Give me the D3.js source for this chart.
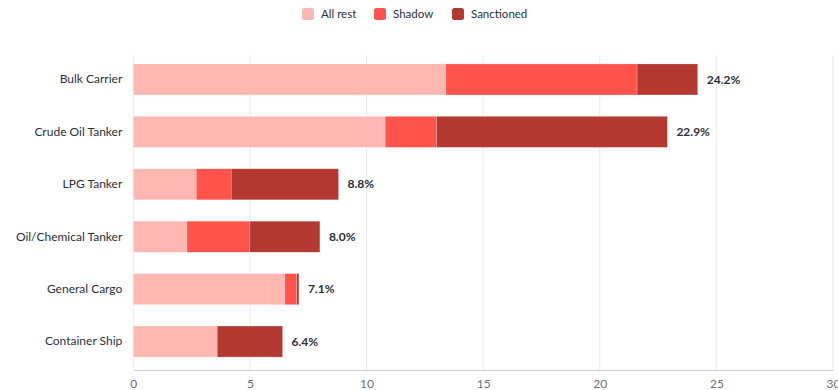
<!DOCTYPE html>
<html>
<head>
<meta charset="utf-8">
<script src="https://cdn.jsdelivr.net/npm/d3@7"></script>
<style>
  body { margin: 0; background: #fff; }
  svg { font-family: Lato, "Noto Sans", sans-serif; }
</style>
</head>
<body>
<div id="chart"></div>
<script>
// data
const categories = ["Bulk Carrier", "Crude Oil Tanker", "LPG Tanker", "Oil/Chemical Tanker", "General Cargo", "Container Ship"];
const allRest    = [13.4, 10.8, 2.7, 2.3, 6.5, 3.6];
const shadow     = [8.2, 2.2, 1.5, 2.7, 0.5, 0.0];
const sanctioned = [2.6, 9.9, 4.6, 3.0, 0.1, 2.8];
const totalLabels = ["24.2%", "22.9%", "8.8%", "8.0%", "7.1%", "6.4%"];
const seriesNames = ["All rest", "Shadow", "Sanctioned"];
const xTicks = [0, 5, 10, 15, 20, 25, 30];

const colors = d3.scaleOrdinal()
  .domain(seriesNames)
  .range(["#ffb8b1", "#ff534b", "#b33931"]);

const width = 838, height = 390;
const plotLeft = 133.3, plotRight = 833, plotTop = 55, plotBottom = 370;

const rows = categories.map((c, i) => ({
  cat: c,
  "All rest": allRest[i],
  "Shadow": shadow[i],
  "Sanctioned": sanctioned[i],
  label: totalLabels[i]
}));

const stack = d3.stack().keys(seriesNames);
const layers = stack(rows);

const x = d3.scaleLinear().domain([0, 30]).range([plotLeft, plotRight]);
const y = d3.scaleBand().domain(categories).range([plotTop, 366])
  .paddingInner(0.408).paddingOuter(0.17);

const svg = d3.select("#chart").append("svg")
  .attr("width", width).attr("height", height);

// gridlines
svg.append("g").selectAll("line")
  .data(xTicks)
  .enter().append("line")
    .attr("x1", d => x(d)).attr("x2", d => x(d))
    .attr("y1", plotTop).attr("y2", plotBottom)
    .attr("stroke", "#ececec").attr("stroke-width", 1);

// bars
svg.append("g").selectAll("g")
  .data(layers)
  .enter().append("g")
    .attr("fill", d => colors(d.key))
  .selectAll("rect")
  .data(d => d)
  .enter().append("rect")
    .attr("x", d => x(d[0]))
    .attr("y", d => y(d.data.cat))
    .attr("width", d => Math.max(0, x(d[1]) - x(d[0])))
    .attr("height", y.bandwidth())
    .attr("stroke", "#fff")
    .attr("stroke-opacity", 0.35)
    .attr("stroke-width", 0.6);

// total labels
svg.append("g").selectAll("text")
  .data(rows)
  .enter().append("text")
    .attr("x", d => x(d["All rest"] + d["Shadow"] + d["Sanctioned"]) + 9)
    .attr("y", d => y(d.cat) + y.bandwidth() / 2)
    .attr("dy", "0.35em")
    .attr("font-size", 12)
    .attr("font-weight", "bold")
    .attr("fill", "#2b313c")
    .text(d => d.label);

// y axis labels
const yAxis = svg.append("g")
  .attr("transform", `translate(${plotLeft},0)`)
  .call(d3.axisLeft(y).tickSize(0).tickPadding(11));
yAxis.select(".domain").remove();
yAxis.selectAll("text")
  .attr("font-size", 12)
  .attr("font-family", "Lato, 'Noto Sans', sans-serif")
  .attr("fill", "#2b313c");

// x axis
const xAxis = svg.append("g")
  .attr("transform", `translate(0,${plotBottom})`)
  .call(d3.axisBottom(x).tickValues(xTicks).tickSize(0).tickPadding(9));
xAxis.select(".domain").attr("stroke", "#c9ccd2");
xAxis.selectAll("text")
  .attr("font-size", 12)
  .attr("font-family", "Lato, 'Noto Sans', sans-serif")
  .attr("fill", "#6b7079");

// legend
const legendX = [302, 374, 452];
const legend = svg.append("g").selectAll("g")
  .data(seriesNames)
  .enter().append("g")
    .attr("transform", (d, i) => `translate(${legendX[i]},8)`);
legend.append("rect")
  .attr("width", 12).attr("height", 12)
  .attr("rx", 2.5)
  .attr("fill", d => colors(d));
legend.append("text")
  .attr("x", 19).attr("y", 6)
  .attr("dy", "0.35em")
  .attr("font-size", 11.5)
  .attr("fill", "#2b313c")
  .text(d => d);
</script>
</body>
</html>
